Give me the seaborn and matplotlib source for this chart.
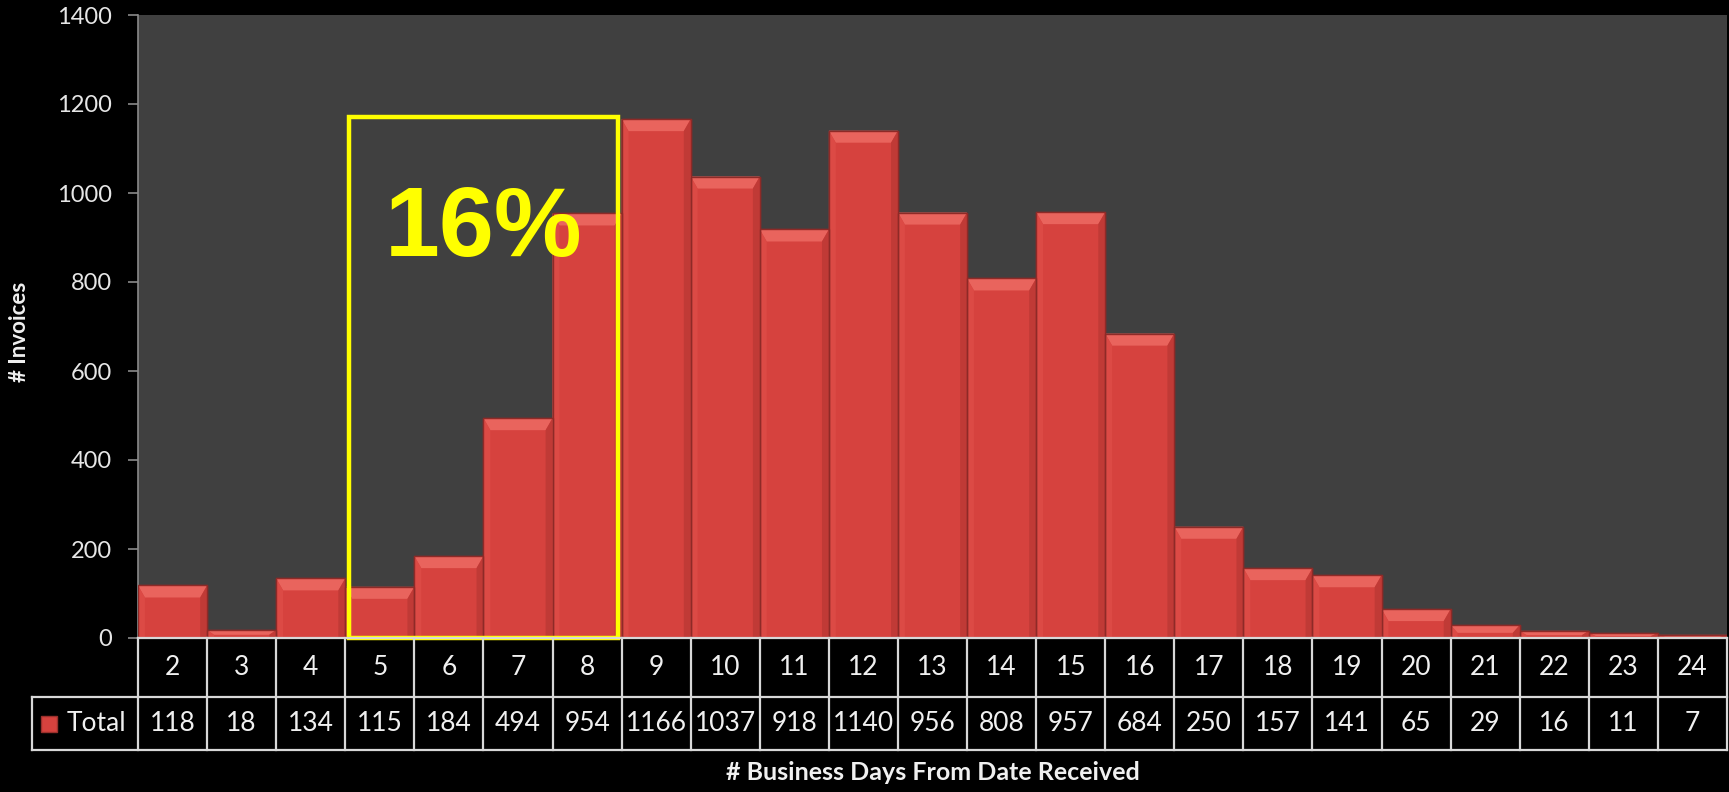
import matplotlib
matplotlib.use("Agg")
import matplotlib.pyplot as plt
from matplotlib.patches import Polygon, Rectangle
import seaborn as sns
import pandas as pd

# Invoice counts by number of business days from date received
days = ["2", "3", "4", "5", "6", "7", "8", "9", "10", "11", "12", "13",
        "14", "15", "16", "17", "18", "19", "20", "21", "22", "23", "24"]
totals = [118, 18, 134, 115, 184, 494, 954, 1166, 1037, 918, 1140, 956,
          808, 957, 684, 250, 157, 141, 65, 29, 16, 11, 7]
y_ticks = [0, 200, 400, 600, 800, 1000, 1200, 1400]

# Highlighted span and its annotation
highlight_days = ["5", "8"]
highlight_top = 1170
highlight_text = "16%"
highlight_text_y = 915

series_name = "Total"
x_title = "# Business Days From Date Received"
y_title = "# Invoices"

df = pd.DataFrame({"day": days, "total": totals})

sns.set_theme(style="dark")
plt.rcParams["font.family"] = ["Lato", "DejaVu Sans"]

W, H = 1729, 792
fig = plt.figure(figsize=(W / 100, H / 100), dpi=100, facecolor="black")

px_left, px_right = 138, 1727
px_top, px_zero, px_table_bottom = 15, 638, 750
ax = fig.add_axes([px_left / W, 1 - px_zero / H,
                   (px_right - px_left) / W, (px_zero - px_top) / H])
ax.set_facecolor("#404040")

bar_color = "#D6423E"
sns.barplot(data=df, x="day", y="total", order=days, color=bar_color,
            saturation=1, width=1.0, edgecolor="#8E2A27", linewidth=1.0,
            errorbar=None, ax=ax, zorder=2)

ax.set_xlim(-0.5, len(days) - 0.5)
ax.set_ylim(0, 1400)

# Bevel: lighter sloped top face and shaded sides on every bar
px_per_unit = (px_zero - px_top) / 1400
bevel_units = 12 / px_per_unit
for p in ax.patches:
    x0, w, h = p.get_x(), p.get_width(), p.get_height()
    if h <= 0:
        continue
    bh = min(bevel_units, h * 0.6)
    inset = w * 0.1
    top_face = Polygon([(x0, h), (x0 + w, h), (x0 + w - inset, h - bh),
                        (x0 + inset, h - bh)], closed=True,
                       facecolor="#E9645D", edgecolor="none", zorder=3)
    ax.add_patch(top_face)
    left_face = Polygon([(x0, 0), (x0, h), (x0 + inset, h - bh),
                         (x0 + inset, 0)], closed=True,
                        facecolor="#DC4A45", edgecolor="none", zorder=3)
    ax.add_patch(left_face)
    right_face = Polygon([(x0 + w, 0), (x0 + w, h), (x0 + w - inset, h - bh),
                          (x0 + w - inset, 0)], closed=True,
                         facecolor="#C03A36", edgecolor="none", zorder=3)
    ax.add_patch(right_face)
    ax.add_patch(Rectangle((x0, 0), w, h, facecolor="none",
                           edgecolor="#8E2A27", linewidth=1.0, zorder=4))

# Highlight box and annotation
i0, i1 = days.index(highlight_days[0]), days.index(highlight_days[1])
box_inset = 0.05
ax.add_patch(Rectangle((i0 - 0.5 + box_inset, 0), i1 - i0 + 1 - 2 * box_inset,
                       highlight_top, facecolor="none", edgecolor="#FFFF00",
                       linewidth=3.2, zorder=6, clip_on=False,
                       joinstyle="miter"))
ax.text((i0 + i1) / 2, highlight_text_y, highlight_text, color="#FFFF00",
        fontsize=71, fontweight="bold", family="Liberation Sans",
        ha="center", va="center", zorder=7)

# Axes styling
ax.set_xlabel("")
ax.set_ylabel("")
ax.set_xticks([])
ax.set_yticks(y_ticks)
ax.set_yticklabels([str(t) for t in y_ticks])
ax.tick_params(axis="y", direction="out", length=7, width=1.2,
               color="#8A8A8A", pad=12, labelsize=17, labelcolor="#E6E6E6",
               left=True)
for side in ["top", "right", "bottom"]:
    ax.spines[side].set_visible(False)
ax.spines["left"].set_color("#8A8A8A")
ax.spines["left"].set_linewidth(1.2)
ax.grid(False)

# Data table under the plot
tab = fig.add_axes([px_left / W, 1 - px_table_bottom / H,
                    (px_right - px_left) / W, (px_table_bottom - px_zero) / H])
tab.set_xlim(-0.5, len(days) - 0.5)
tab.set_ylim(0, 1)
tab.axis("off")
tab.patch.set_alpha(0)

line_kw = dict(color="#D8D8D8", linewidth=1.6, clip_on=False,
               solid_capstyle="projecting")
row_split = (px_table_bottom - 697) / (px_table_bottom - px_zero)
col_w_px = (px_right - px_left) / len(days)
legend_left = -0.5 - (px_left - 32) / col_w_px

n = len(days)
tab.plot([-0.5, n - 0.5], [1, 1], **line_kw)
tab.plot([legend_left, n - 0.5], [row_split, row_split], **line_kw)
tab.plot([legend_left, n - 0.5], [0, 0], **line_kw)
for i in range(n + 1):
    tab.plot([i - 0.5, i - 0.5], [0, 1], **line_kw)
tab.plot([legend_left, legend_left], [0, row_split], **line_kw)

top_mid = (1 + row_split) / 2
bot_mid = row_split / 2
cell_font = 19
for i, (d, v) in enumerate(zip(days, totals)):
    tab.text(i, top_mid, d, ha="center", va="center", fontsize=cell_font,
             color="#F0F0F0")
    tab.text(i, bot_mid, str(v), ha="center", va="center",
             fontsize=cell_font, color="#F0F0F0")

# Legend key inside the series cell
key_x = legend_left + (49 - 32) / col_w_px
tab.plot([key_x], [bot_mid], marker="s", markersize=12, color=bar_color,
         markeredgecolor="#9A302C", clip_on=False)
tab.text(legend_left + (67 - 32) / col_w_px, bot_mid, series_name,
         ha="left", va="center", fontsize=cell_font, color="#F0F0F0")

# Axis titles
fig.text((px_left + px_right) / 2 / W, 1 - 772 / H, x_title, ha="center",
         va="center", fontsize=18, fontweight="bold", color="#F0F0F0")
fig.text(20 / W, 1 - 332 / H, y_title, ha="center", va="center",
         rotation=90, fontsize=16, fontweight="bold", color="#F0F0F0")

fig.savefig("out.png", dpi=100, facecolor="black")
